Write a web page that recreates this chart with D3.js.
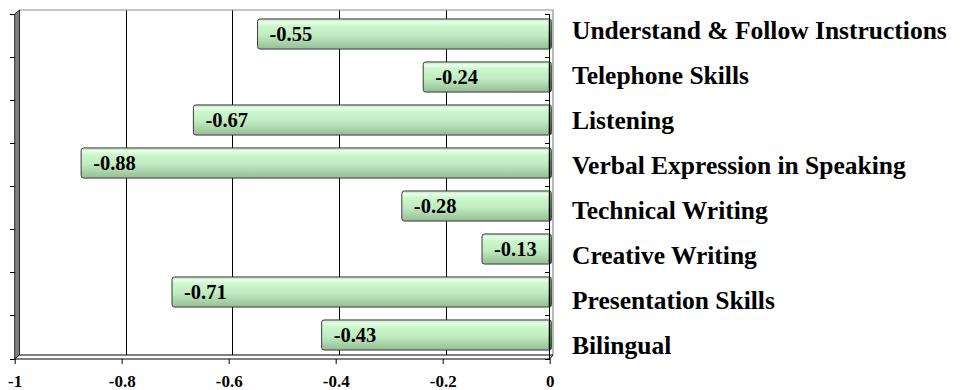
<!DOCTYPE html>
<html>
<head>
<meta charset="utf-8">
<script src="https://cdn.jsdelivr.net/npm/d3@7/dist/d3.min.js"></script>
<style>
  html, body { margin: 0; padding: 0; background: #fff; }
  svg { display: block; }
  text { font-family: "Liberation Serif", "Times New Roman", serif; font-weight: bold; fill: #000; }
</style>
</head>
<body>
<svg id="chart" width="965" height="390"></svg>
<script>
// Skill gaps (negative scores) by communication area
const categories = [
  "Understand & Follow Instructions",
  "Telephone Skills",
  "Listening",
  "Verbal Expression in Speaking",
  "Technical Writing",
  "Creative Writing",
  "Presentation Skills",
  "Bilingual"
];
const values = [-0.55, -0.24, -0.67, -0.88, -0.28, -0.13, -0.71, -0.43];
const xTicks = [-1, -0.8, -0.6, -0.4, -0.2, 0];

const svg = d3.select("#chart");

// Pseudo-3D box: back wall plane, front plane, bars sit between them
const backTop = 10, backBottom = 355;
const depthY = 4;
const xBack = d3.scaleLinear().domain([-1, 0]).range([19.5, 553]);
const xFront = d3.scaleLinear().domain([-1, 0]).range([14.7, 549.7]);
const xBar = d3.scaleLinear().domain([-1, 0]).range([17, 551.5]);

const yBar = d3.scaleBand().domain(categories).range([12.5, 356.5])
  .paddingInner(0.3).paddingOuter(0.15);
const yFrontBand = d3.scaleBand().domain(categories).range([backTop + depthY, backBottom + depthY]);
const yLabel = d3.scalePoint().domain(categories).range([39, 354]);

// Gradients
const defs = svg.append("defs");
const g1 = defs.append("linearGradient").attr("id", "barFill")
  .attr("x1", 0).attr("y1", 0).attr("x2", 0).attr("y2", 1);
[["0%", "#b4dcb4"], ["10%", "#ecffec"], ["22%", "#cdf7cd"], ["55%", "#c0ebc0"], ["100%", "#95bd95"]]
  .forEach(([o, c]) => g1.append("stop").attr("offset", o).attr("stop-color", c));
const g2 = defs.append("linearGradient").attr("id", "endFill")
  .attr("x1", 0).attr("y1", 0).attr("x2", 0).attr("y2", 1);
[["0%", "#7a9a7a"], ["100%", "#3e553e"]]
  .forEach(([o, c]) => g2.append("stop").attr("offset", o).attr("stop-color", c));

// Back wall gridlines
svg.append("g").selectAll("line").data(xTicks.slice(1, -1)).join("line")
  .attr("x1", d => xBack(d)).attr("x2", d => xBack(d))
  .attr("y1", backTop).attr("y2", backBottom)
  .attr("stroke", "#000").attr("stroke-width", 1).attr("shape-rendering", "crispEdges");

// Back wall border (top and right)
svg.append("path")
  .attr("d", `M${xBack(-1)},${backTop}H${xBack(0)}V${backBottom}`)
  .attr("fill", "none").attr("stroke", "#8c8c8c").attr("stroke-width", 1.2);

// Left side wall
svg.append("path")
  .attr("d", `M${xBack(-1)},${backTop}L${xFront(-1)},${backTop + depthY}L${xFront(-1)},${backBottom + depthY}L${xBack(-1)},${backBottom}Z`)
  .attr("fill", "#808080").attr("stroke", "#000").attr("stroke-width", 0.8);

// Floor
svg.append("path")
  .attr("d", `M${xBack(-1)},${backBottom}L${xBack(0)},${backBottom}L${xFront(0)},${backBottom + depthY}L${xFront(-1)},${backBottom + depthY}Z`)
  .attr("fill", "#fff").attr("stroke", "#000").attr("stroke-width", 1);

// Category axis ticks: left edge and along the zero line
const catEdges = categories.map(c => yFrontBand(c)).concat([backBottom + depthY]);
svg.append("g").selectAll("line").data(catEdges).join("line")
  .attr("x1", xFront(-1) - 4.5).attr("x2", xFront(-1))
  .attr("y1", d => d).attr("y2", d => d)
  .attr("stroke", "#000").attr("shape-rendering", "crispEdges");

// Bars
const bars = svg.append("g");
bars.selectAll("rect.bar").data(values).join("rect").attr("class", "bar")
  .attr("x", d => xBar(d))
  .attr("y", (d, i) => yBar(categories[i]))
  .attr("width", d => xBar(0) - xBar(d))
  .attr("height", yBar.bandwidth())
  .attr("rx", 2.5).attr("ry", 2.5)
  .attr("fill", "url(#barFill)")
  .attr("stroke", "#3a3a3a").attr("stroke-width", 1);
bars.selectAll("rect.end").data(values).join("rect").attr("class", "end")
  .attr("x", xBar(0) - 3)
  .attr("y", (d, i) => yBar(categories[i]) + 1)
  .attr("width", 3)
  .attr("height", yBar.bandwidth() - 2)
  .attr("fill", "url(#endFill)");

// Zero-line category axis with ticks
svg.append("line")
  .attr("x1", xFront(0)).attr("x2", xFront(0))
  .attr("y1", backTop + depthY).attr("y2", backBottom + depthY + 1)
  .attr("stroke", "#000").attr("shape-rendering", "crispEdges");
svg.append("g").selectAll("line").data(catEdges).join("line")
  .attr("x1", xFront(0) - 5).attr("x2", xFront(0))
  .attr("y1", d => d).attr("y2", d => d)
  .attr("stroke", "#000").attr("shape-rendering", "crispEdges");

// Value labels at the bar ends
svg.append("g").selectAll("text").data(values).join("text")
  .attr("x", d => xBar(d) + 12)
  .attr("y", (d, i) => yBar(categories[i]) + yBar.bandwidth() / 2 + 6.5)
  .attr("font-size", 20.5)
  .text(d => d.toFixed(2));

// Category labels
svg.append("g").selectAll("text").data(categories).join("text")
  .attr("x", 572)
  .attr("y", d => yLabel(d))
  .attr("font-size", 25.5)
  .text(d => d);

// Value axis along the front floor edge
const xAxis = d3.axisBottom(xFront)
  .tickValues(xTicks)
  .tickSize(5)
  .tickPadding(11)
  .tickFormat(d => String(d));
const ax = svg.append("g")
  .attr("transform", `translate(0,${backBottom + depthY})`)
  .call(xAxis);
ax.select(".domain").remove();
ax.selectAll(".tick line").attr("stroke", "#000");
ax.selectAll(".tick text")
  .attr("font-family", "'Liberation Serif', 'Times New Roman', serif")
  .attr("font-weight", "bold")
  .attr("font-size", 17)
  .attr("fill", "#000");
</script>
</body>
</html>
